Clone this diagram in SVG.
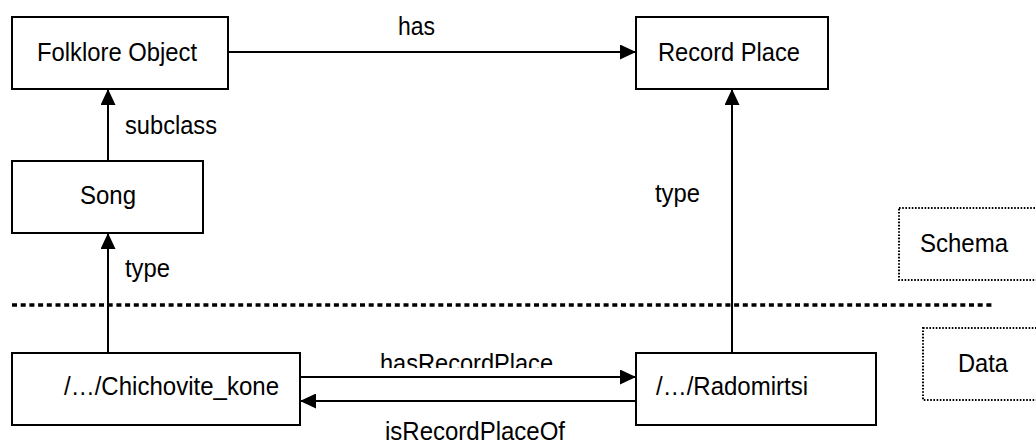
<svg xmlns="http://www.w3.org/2000/svg" width="1036" height="445" viewBox="0 0 1036 445">
<style>
.box{fill:#fff;stroke:#000;stroke-width:2}
.lbl{font-family:"Liberation Sans",Arial,sans-serif;font-size:26px;fill:#000}
.conn{stroke:#000;stroke-width:2;fill:none}
.arr{marker-end:url(#ah)}
.dotbox{fill:none;stroke:#000;stroke-width:2;stroke-dasharray:1.6 1.6}
</style>
<defs>
<marker id="ah" markerUnits="userSpaceOnUse" markerWidth="16" markerHeight="15" refX="16" refY="7.5" orient="auto">
<path d="M0,0 L16,7.5 L0,15 z" fill="#000"/>
</marker>
<clipPath id="clipHRP"><rect x="0" y="340" width="1036" height="28"/></clipPath>
</defs>
<rect width="1036" height="445" fill="#fff"/>

<g id="separator">
<line x1="12" y1="305" x2="993" y2="305" stroke="#000" stroke-width="3.5" stroke-dasharray="5 3.7"/>
</g>

<g id="connectors">
<line class="conn arr" x1="228" y1="52" x2="636" y2="52"/>
<line class="conn arr" x1="108" y1="161" x2="108" y2="89"/>
<line class="conn arr" x1="108" y1="353" x2="108" y2="233"/>
<line class="conn arr" x1="732" y1="353" x2="732" y2="89"/>
<line class="conn arr" x1="300" y1="377" x2="636" y2="377"/>
<line class="conn arr" x1="636" y1="401" x2="300" y2="401"/>
<text class="lbl" x="398" y="35" textLength="37" lengthAdjust="spacingAndGlyphs">has</text>
<text class="lbl" x="125" y="134" textLength="92" lengthAdjust="spacingAndGlyphs">subclass</text>
<text class="lbl" x="125" y="277" textLength="45" lengthAdjust="spacingAndGlyphs">type</text>
<text class="lbl" x="655" y="202" textLength="45" lengthAdjust="spacingAndGlyphs">type</text>
<text class="lbl" x="380" y="372" textLength="173" lengthAdjust="spacingAndGlyphs" clip-path="url(#clipHRP)">hasRecordPlace</text>
<text class="lbl" x="385" y="440" textLength="180" lengthAdjust="spacingAndGlyphs">isRecordPlaceOf</text>
</g>

<g id="folklore-object">
<rect class="box" x="12" y="17" width="216" height="72"/>
<text class="lbl" x="37" y="61" textLength="160" lengthAdjust="spacingAndGlyphs">Folklore Object</text>
</g>
<g id="record-place">
<rect class="box" x="636" y="17" width="192" height="72"/>
<text class="lbl" x="658" y="61" textLength="142" lengthAdjust="spacingAndGlyphs">Record Place</text>
</g>
<g id="song">
<rect class="box" x="12" y="161" width="191" height="72"/>
<text class="lbl" x="80" y="204" textLength="56" lengthAdjust="spacingAndGlyphs">Song</text>
</g>
<g id="chichovite-kone">
<rect class="box" x="12" y="353" width="288" height="72"/>
<text class="lbl" x="64" y="395" textLength="215" lengthAdjust="spacingAndGlyphs">/…/Chichovite_kone</text>
</g>
<g id="radomirtsi">
<rect class="box" x="636" y="353" width="240" height="72"/>
<text class="lbl" x="656" y="395" textLength="152" lengthAdjust="spacingAndGlyphs">/…/Radomirtsi</text>
</g>
<g id="schema">
<rect class="dotbox" x="899" y="208" width="150" height="72"/>
<text class="lbl" x="920" y="252" textLength="88" lengthAdjust="spacingAndGlyphs">Schema</text>
</g>
<g id="data">
<rect class="dotbox" x="923" y="328" width="130" height="72"/>
<text class="lbl" x="958" y="372" textLength="50" lengthAdjust="spacingAndGlyphs">Data</text>
</g>
</svg>
